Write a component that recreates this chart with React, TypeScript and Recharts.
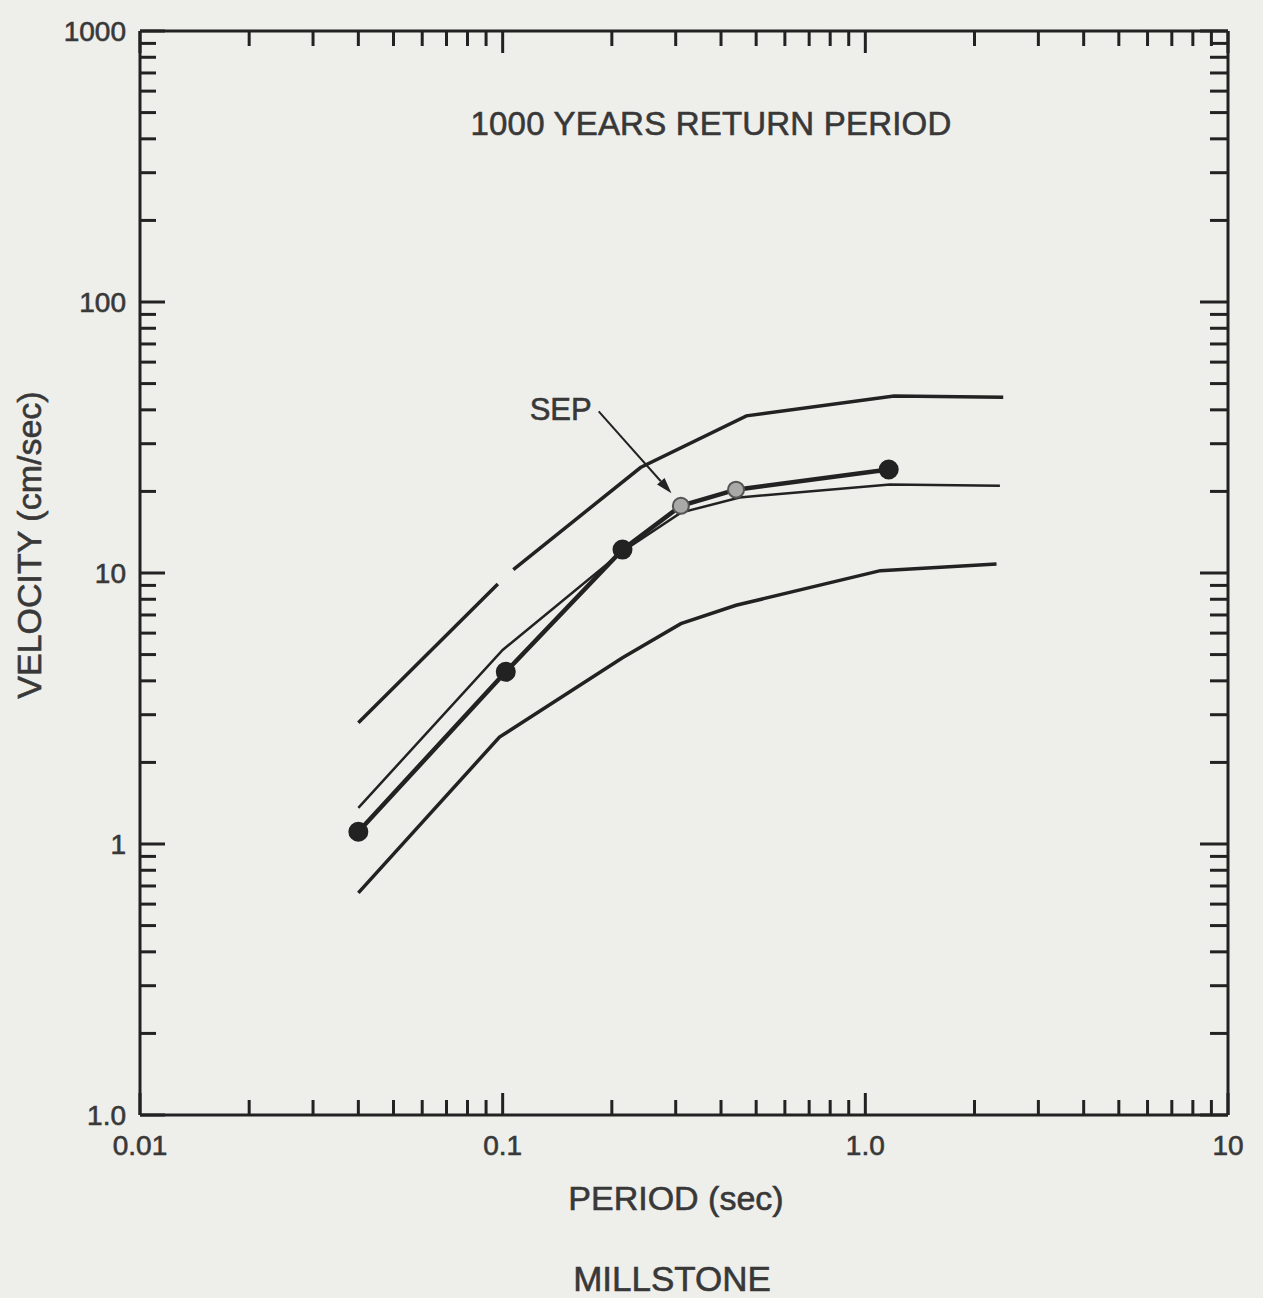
import { LineChart, Line, XAxis, YAxis, ReferenceLine } from "recharts";

// axis ticks
const X_MAJOR = [0.01, 0.1, 1, 10];
const X_LABELS = ["0.01", "0.1", "1.0", "10"];
const Y_MAJOR = [0.1, 1, 10, 100, 1000];
const Y_LABELS = ["1.0", "1", "10", "100", "1000"];
const MINOR_STEPS = [2, 3, 4, 5, 6, 7, 8, 9];

// curves (period in sec, velocity in cm/sec)
const UPPER_PERIOD = [0.04, 0.097, 0.1, 0.107, 0.24, 0.47, 1.2, 2.4];
const UPPER_VEL = [2.8, 9.1, null, 10.3, 24.5, 38, 45, 44.5];
const MIDDLE_PERIOD = [0.04, 0.1, 0.214, 0.31, 0.45, 1.17, 2.35];
const MIDDLE_VEL = [1.36, 5.2, 12, 16.7, 19, 21.2, 21];
const LOWER_PERIOD = [0.04, 0.098, 0.214, 0.31, 0.44, 1.1, 2.3];
const LOWER_VEL = [0.66, 2.48, 4.87, 6.5, 7.6, 10.2, 10.8];
const SEP_PERIOD = [0.04, 0.102, 0.214, 0.31, 0.44, 1.16];
const SEP_VEL = [1.11, 4.32, 12.2, 17.7, 20.3, 24.1];
const SEP_OPEN_POINTS = [3, 4];
const SEP_ARROW = [
  { x: 0.184, y: 39.5 },
  { x: 0.292, y: 19.7 },
];

const INK = "#222";
const TEXT = "#383838";
const FONT = "'Liberation Sans', Arial, sans-serif";

const toPoints = (xs: number[], ys: (number | null)[]) =>
  xs.map((x, i) => ({ x, y: ys[i] }));

const buildTicks = (majors: number[]) =>
  majors.flatMap((m, i) =>
    i < majors.length - 1 ? [m, ...MINOR_STEPS.map((k) => m * k)] : [m]
  );

const majorIndex = (majors: number[], v: number) =>
  majors.findIndex((m) => Math.abs(m - v) / m < 1e-9);

const xTicks = buildTicks(X_MAJOR);
const yTicks = buildTicks(Y_MAJOR);

const BottomTick = (props: any) => {
  const { x, y, payload } = props;
  const i = majorIndex(X_MAJOR, payload.value);
  const len = i >= 0 ? 22 : 15;
  return (
    <g>
      <line x1={x} y1={y} x2={x} y2={y - len} stroke={INK} strokeWidth={3} />
      {i >= 0 && (
        <text x={x} y={y + 40} textAnchor="middle" fontSize={28} fill={TEXT} stroke={TEXT} strokeWidth={0.6} fontFamily={FONT}>
          {X_LABELS[i]}
        </text>
      )}
    </g>
  );
};

const TopTick = (props: any) => {
  const { x, y, payload } = props;
  const len = majorIndex(X_MAJOR, payload.value) >= 0 ? 22 : 15;
  return <line x1={x} y1={y} x2={x} y2={y + len} stroke={INK} strokeWidth={3} />;
};

const LeftTick = (props: any) => {
  const { x, y, payload } = props;
  const i = majorIndex(Y_MAJOR, payload.value);
  const len = i >= 0 ? 25 : 16;
  return (
    <g>
      <line x1={x} y1={y} x2={x + len} y2={y} stroke={INK} strokeWidth={3} />
      {i >= 0 && (
        <text x={x - 14} y={y + 10} textAnchor="end" fontSize={28} fill={TEXT} stroke={TEXT} strokeWidth={0.6} fontFamily={FONT}>
          {Y_LABELS[i]}
        </text>
      )}
    </g>
  );
};

const RightTick = (props: any) => {
  const { x, y, payload } = props;
  const len = majorIndex(Y_MAJOR, payload.value) >= 0 ? 28 : 18;
  return <line x1={x} y1={y} x2={x - len} y2={y} stroke={INK} strokeWidth={3} />;
};

const SepDot = (props: any) => {
  const { cx, cy, index } = props;
  if (cx == null || cy == null) return <g key={`d-${index}`} />;
  const open = SEP_OPEN_POINTS.includes(index);
  return (
    <circle
      key={`d-${index}`}
      cx={cx}
      cy={cy}
      r={open ? 8 : 9}
      fill={open ? "#a9a9a7" : INK}
      stroke={open ? "#555" : INK}
      strokeWidth={2}
    />
  );
};

const ArrowShape = (props: any) => {
  const { x1, y1, x2, y2 } = props;
  const ang = Math.atan2(y2 - y1, x2 - x1);
  const hl = 16;
  const hw = 5;
  const bx = x2 - hl * Math.cos(ang);
  const by = y2 - hl * Math.sin(ang);
  const px = -Math.sin(ang) * hw;
  const py = Math.cos(ang) * hw;
  return (
    <g>
      <line x1={x1} y1={y1} x2={bx} y2={by} stroke={INK} strokeWidth={2} />
      <polygon points={`${x2},${y2} ${bx + px},${by + py} ${bx - px},${by - py}`} fill={INK} />
      <text x={x1 - 7} y={y1 + 9} textAnchor="end" fontSize={31} fill={TEXT} stroke={TEXT} strokeWidth={0.6} fontFamily={FONT}>
        SEP
      </text>
    </g>
  );
};

const App = () => {
  return (
    <div
      style={{
        position: "absolute",
        left: 0,
        top: 0,
        width: 1263,
        height: 1298,
        background: "#eeeeeb",
      }}
    >
      <LineChart width={1263} height={1298} margin={{ top: 30, right: 34, bottom: 182, left: 139 }}>
        <XAxis
          xAxisId="bottom"
          dataKey="x"
          type="number"
          scale="log"
          domain={[0.01, 10]}
          allowDataOverflow
          ticks={xTicks}
          interval={0}
          height={1}
          tickSize={0}
          tickMargin={0}
          tickLine={false}
          tick={BottomTick}
          axisLine={{ stroke: INK, strokeWidth: 3 }}
        />
        <XAxis
          xAxisId="top"
          orientation="top"
          dataKey="x"
          type="number"
          scale="log"
          domain={[0.01, 10]}
          allowDataOverflow
          ticks={xTicks}
          interval={0}
          height={1}
          tickSize={0}
          tickMargin={0}
          tickLine={false}
          tick={TopTick}
          axisLine={{ stroke: INK, strokeWidth: 3 }}
        />
        <YAxis
          yAxisId="left"
          type="number"
          scale="log"
          domain={[0.1, 1000]}
          allowDataOverflow
          ticks={yTicks}
          interval={0}
          width={1}
          tickSize={0}
          tickMargin={0}
          tickLine={false}
          tick={LeftTick}
          axisLine={{ stroke: INK, strokeWidth: 3 }}
        />
        <YAxis
          yAxisId="right"
          orientation="right"
          type="number"
          scale="log"
          domain={[0.1, 1000]}
          allowDataOverflow
          ticks={yTicks}
          interval={0}
          width={1}
          tickSize={0}
          tickMargin={0}
          tickLine={false}
          tick={RightTick}
          axisLine={{ stroke: INK, strokeWidth: 3 }}
        />
        <Line
          xAxisId="bottom"
          yAxisId="left"
          data={toPoints(UPPER_PERIOD, UPPER_VEL)}
          dataKey="y"
          type="linear"
          stroke={INK}
          strokeWidth={3.5}
          dot={false}
          isAnimationActive={false}
        />
        <Line
          xAxisId="bottom"
          yAxisId="left"
          data={toPoints(MIDDLE_PERIOD, MIDDLE_VEL)}
          dataKey="y"
          type="linear"
          stroke={INK}
          strokeWidth={2.5}
          dot={false}
          isAnimationActive={false}
        />
        <Line
          xAxisId="bottom"
          yAxisId="left"
          data={toPoints(LOWER_PERIOD, LOWER_VEL)}
          dataKey="y"
          type="linear"
          stroke={INK}
          strokeWidth={3.5}
          dot={false}
          isAnimationActive={false}
        />
        <Line
          xAxisId="bottom"
          yAxisId="left"
          data={toPoints(SEP_PERIOD, SEP_VEL)}
          dataKey="y"
          type="linear"
          stroke={INK}
          strokeWidth={4.5}
          dot={SepDot}
          isAnimationActive={false}
        />
        <ReferenceLine xAxisId="bottom" yAxisId="left" segment={SEP_ARROW} shape={ArrowShape} />
      </LineChart>
      <svg
        width={1263}
        height={1298}
        style={{ position: "absolute", left: 0, top: 0, pointerEvents: "none" }}
        fontFamily={FONT}
        fill={TEXT}
        stroke={TEXT}
        strokeWidth={0.6}
      >
        <text x={711} y={135} textAnchor="middle" fontSize={33} letterSpacing={0.2}>
          1000 YEARS RETURN PERIOD
        </text>
        <text x={41} y={545} textAnchor="middle" fontSize={34} transform="rotate(-90 41 545)">
          VELOCITY (cm/sec)
        </text>
        <text x={676} y={1210} textAnchor="middle" fontSize={34}>
          PERIOD (sec)
        </text>
        <text x={672} y={1291} textAnchor="middle" fontSize={35}>
          MILLSTONE
        </text>
      </svg>
    </div>
  );
};

export default App;
